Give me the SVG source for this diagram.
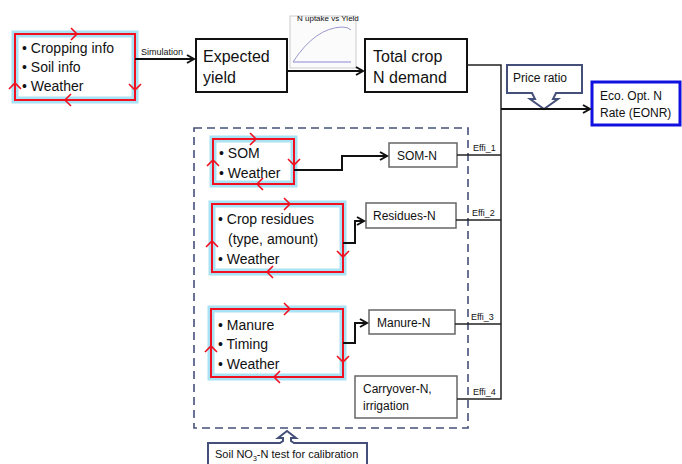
<svg xmlns="http://www.w3.org/2000/svg" width="682" height="464" viewBox="0 0 682 464">
<style>
text{font-family:"Liberation Sans",Arial,sans-serif;fill:#111}
.glow{fill:#fff;stroke:#a8e2f4;stroke-width:7}
.red{fill:none;stroke:#f01020;stroke-width:2}
.chev{fill:none;stroke:#f01020;stroke-width:1.6}
.big{fill:#fff;stroke:#111;stroke-width:2}
.small{fill:#fff;stroke:#666;stroke-width:1.5}
.con{fill:none;stroke:#111;stroke-width:2}
.thin{fill:none;stroke:#222;stroke-width:1.5}
.t14{font-size:14px}
.t16{font-size:16px}
.t12{font-size:12px}
.t9{font-size:9px}
.call{fill:#fff;stroke:#45507a;stroke-width:2}
</style>
<defs>
<path id="chev" d="M-6,-6 L0,0 L-6,6"/>
<marker id="ah" markerWidth="10" markerHeight="10" refX="8" refY="5" orient="auto" markerUnits="userSpaceOnUse">
<path d="M1,1 L8,5 L1,9" fill="none" stroke="#111" stroke-width="2"/>
</marker>
</defs>

<g id="inputs">
<rect class="glow" x="15" y="34" width="120" height="66"/>
<rect class="red" x="15" y="34" width="120" height="66"/>
<g class="chev"><use href="#chev" transform="translate(77,34)"/><use href="#chev" transform="translate(135,90) rotate(90)"/><use href="#chev" transform="translate(65,100) rotate(180)"/><use href="#chev" transform="translate(15,83) rotate(-90)"/></g>
<text class="t14" x="22" y="53">• Cropping info</text>
<text class="t14" x="22" y="72">• Soil info</text>
<text class="t14" x="22" y="91">• Weather</text>
</g>

<g id="expected">
<rect class="big" x="196" y="39" width="91" height="53"/>
<text class="t16" x="203" y="62">Expected</text>
<text class="t16" x="203" y="83">yield</text>
</g>

<g id="chart">
<rect x="290" y="16" width="66" height="52" fill="#fbfbfb" stroke="#ccc" stroke-width="1"/>
<path d="M293,62 Q315,28 342,27 Q348,27 351,30" fill="none" stroke="#9a97d0" stroke-width="1"/>
<line x1="293" y1="62" x2="351" y2="62" stroke="#8a8ad8" stroke-width="1"/>
<text x="297" y="21" style="font-size:8px">N uptake vs Yield</text>
</g>

<g id="demand">
<rect class="big" x="365" y="39" width="102" height="53"/>
<text class="t16" x="373" y="62">Total crop</text>
<text class="t16" x="373" y="83">N demand</text>
</g>

<g id="price">
<path class="call" d="M507,65 H582 V93 H556 L553,99 L558,99 L544,109 L530,99 L535,99 L532,93 H507 Z"/>
<text class="t12" x="513" y="82">Price ratio</text>
</g>

<g id="eonr">
<rect x="592" y="82" width="88" height="43" fill="#fff" stroke="#1010e0" stroke-width="3"/>
<text class="t12" x="600" y="100">Eco. Opt. N</text>
<text class="t12" x="600" y="117">Rate (EONR)</text>
</g>

<g id="soilbox">
<rect x="194" y="128" width="274" height="300" fill="none" stroke="#45507a" stroke-width="1.6" stroke-dasharray="8,5"/>
</g>

<g id="som">
<rect class="glow" x="213" y="139" width="81" height="45"/>
<rect class="red" x="213" y="139" width="81" height="45"/>
<g class="chev"><use href="#chev" transform="translate(256,139)"/><use href="#chev" transform="translate(294,165) rotate(90)"/><use href="#chev" transform="translate(257,184) rotate(180)"/><use href="#chev" transform="translate(213,160) rotate(-90)"/></g>
<text class="t14" x="219" y="158">• SOM</text>
<text class="t14" x="219" y="178">• Weather</text>
</g>

<g id="residues">
<rect class="glow" x="212" y="204" width="131" height="68"/>
<rect class="red" x="212" y="204" width="131" height="68"/>
<g class="chev"><use href="#chev" transform="translate(290,204)"/><use href="#chev" transform="translate(343,257) rotate(90)"/><use href="#chev" transform="translate(267,272) rotate(180)"/><use href="#chev" transform="translate(212,241) rotate(-90)"/></g>
<text class="t14" x="218" y="224">• Crop residues</text>
<text class="t14" x="228" y="244">(type, amount)</text>
<text class="t14" x="218" y="264">• Weather</text>
</g>

<g id="manure">
<rect class="glow" x="211" y="309" width="132" height="68"/>
<rect class="red" x="211" y="309" width="132" height="68"/>
<g class="chev"><use href="#chev" transform="translate(290,309)"/><use href="#chev" transform="translate(343,362) rotate(90)"/><use href="#chev" transform="translate(274,377) rotate(180)"/><use href="#chev" transform="translate(211,346) rotate(-90)"/></g>
<text class="t14" x="218" y="330">• Manure</text>
<text class="t14" x="218" y="349">• Timing</text>
<text class="t14" x="218" y="369">• Weather</text>
</g>

<g id="somn">
<rect class="small" x="389" y="143" width="68" height="24"/>
<text class="t12" x="397" y="160">SOM-N</text>
</g>
<g id="resn">
<rect class="small" x="366" y="203" width="90" height="25"/>
<text class="t12" x="373" y="220">Residues-N</text>
</g>
<g id="manuren">
<rect class="small" x="369" y="310" width="86" height="24"/>
<text class="t12" x="377" y="327">Manure-N</text>
</g>
<g id="carry">
<rect class="small" x="355" y="376" width="102" height="42"/>
<text class="t12" x="363" y="393">Carryover-N,</text>
<text class="t12" x="363" y="410">irrigation</text>
</g>

<g id="soiltest">
<path class="call" d="M208,443 H280 L283,441 L283,438 L278,438 L287,431 L296,438 L291,438 L291,441 L294,443 H367 V470 H208 Z"/>
<text class="t12" x="215" y="458" style="font-size:11px">Soil NO<tspan style="font-size:7px" dy="3">3</tspan><tspan dy="-3">-N test for calibration</tspan></text>
</g>

<g id="connectors">
<line class="con" x1="135" y1="59" x2="194" y2="59" marker-end="url(#ah)"/>
<text class="t9" x="141" y="55">Simulation</text>
<line class="con" x1="287" y1="71" x2="363" y2="71" marker-end="url(#ah)"/>
<polyline class="thin" points="467,65 501,65 501,399 457,399"/>
<line class="con" x1="501" y1="109" x2="590" y2="109" marker-end="url(#ah)"/>
<line class="thin" x1="457" y1="155" x2="501" y2="155"/>
<line class="thin" x1="456" y1="220" x2="501" y2="220"/>
<line class="thin" x1="455" y1="324" x2="501" y2="324"/>
<text class="t9" x="473" y="151">Effi_1</text>
<text class="t9" x="472" y="216">Effi_2</text>
<text class="t9" x="471" y="320">Effi_3</text>
<text class="t9" x="473" y="395">Effi_4</text>
<polyline class="con" points="294,170 342,170 342,156 387,156" marker-end="url(#ah)"/>
<polyline class="con" points="343,243 355,243 355,221 364,221" marker-end="url(#ah)"/>
<polyline class="con" points="343,343 355,343 355,323 367,323" marker-end="url(#ah)"/>
</g>
</svg>
